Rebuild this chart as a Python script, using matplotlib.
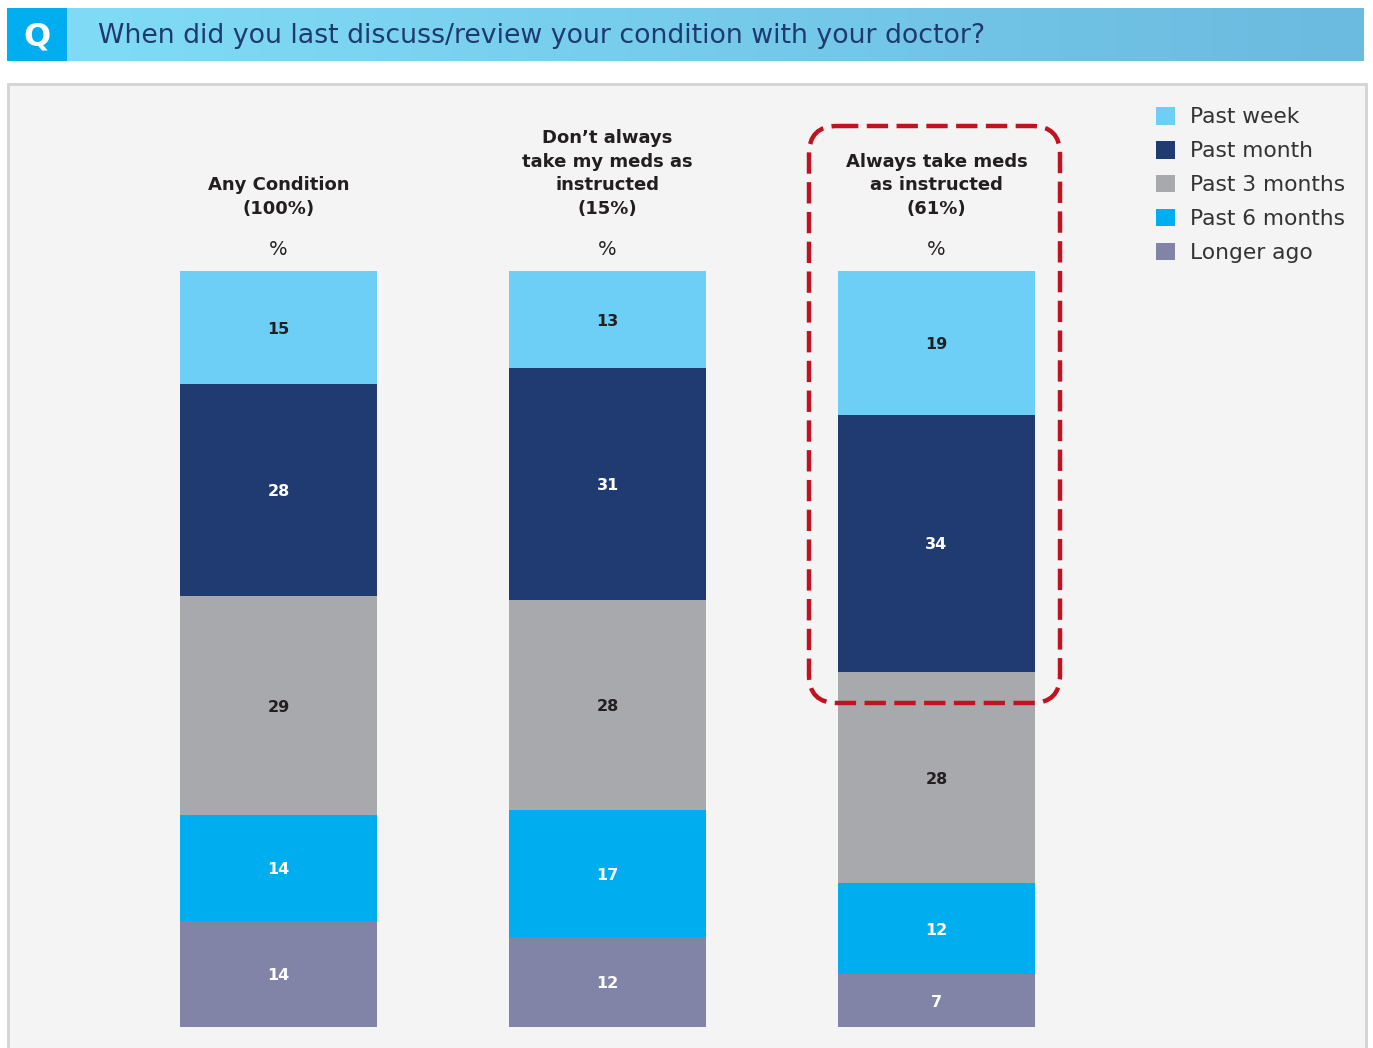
import matplotlib
matplotlib.use('Agg')
import matplotlib.pyplot as plt
import numpy as np
from matplotlib.patches import Rectangle, FancyBboxPatch, Patch
from matplotlib.colors import LinearSegmentedColormap

# ---------------- data ----------------
categories = ["Any Condition\n(100%)",
              "Don\u2019t always\ntake my meds as\ninstructed\n(15%)",
              "Always take meds\nas instructed\n(61%)"]
series = ["Past week", "Past month", "Past 3 months", "Past 6 months", "Longer ago"]
past_week = [15, 13, 19]
past_month = [28, 31, 34]
past_3_months = [29, 28, 28]
past_6_months = [14, 17, 12]
longer_ago = [14, 12, 7]
title = "When did you last discuss/review your condition with your doctor?"

colors = ["#6DCFF6", "#203A72", "#A7A9AC", "#00AEEF", "#8184A7"]
label_colors = ["#231F20", "white", "#231F20", "white", "white"]

values = np.array([past_week, past_month, past_3_months, past_6_months, longer_ago], dtype=float)
totals = values.sum(axis=0)
norm = values / totals * 100.0

plt.rcParams['font.family'] = ['DejaVu Sans']

W, H = 1373, 1048
fig = plt.figure(figsize=(W / 100, H / 100), dpi=100)
fig.patch.set_facecolor('white')

# ---------------- background / decorations ----------------
bg = fig.add_axes([0, 0, 1, 1])
bg.axis('off')
bg.add_patch(Rectangle((8, 84), 1358, 990, facecolor='#F4F4F4', edgecolor='#D3D3D3', lw=2, zorder=0))
grad = np.linspace(0, 1, 256).reshape(1, -1)
cmap = LinearSegmentedColormap.from_list('g', ['#80DCF6', '#6BBADF'])
bg.imshow(grad, extent=(67, 1364, 61, 8), cmap=cmap, aspect='auto', zorder=1)
bg.add_patch(Rectangle((7, 8), 60, 53, facecolor='#00AEEF', edgecolor='none', zorder=2))
bg.text(37, 37, 'Q', color='white', fontsize=23, fontweight='bold', ha='center', va='center', zorder=3)
bg.text(98, 36, title, color='#1F3A6E', fontsize=19.3, ha='left', va='center', zorder=3)
bg.set_xlim(0, W)
bg.set_ylim(H, 0)

# ---------------- bars ----------------
ax = fig.add_axes([114 / W, 1 - 1027 / H, (1101 - 114) / W, (1027 - 271) / H])
ax.set_facecolor('none')
x = np.arange(len(categories))
bottom = np.zeros(len(categories))
for k, name in enumerate(series):
    ax.bar(x, norm[k], width=0.6, bottom=bottom, color=colors[k], label=name, edgecolor='none')
    for i in range(len(categories)):
        ax.text(x[i], bottom[i] + norm[k][i] / 2 + 0.2, f"{int(values[k][i])}", ha='center', va='center',
                color=label_colors[k], fontsize=11.5, fontweight='bold')
    bottom = bottom + norm[k]
ax.set_xlim(-0.5, 2.5)
ax.set_ylim(100, 0)
ax.axis('off')

for i, cat in enumerate(categories):
    ax.text(x[i], -7.5, cat, ha='center', va='baseline', fontsize=13, fontweight='bold',
            color='#231F20', linespacing=1.42, clip_on=False)
    ax.text(x[i], -2.8, '%', ha='center', va='center', fontsize=14, color='#231F20', clip_on=False)

handles = [Patch(facecolor=c, edgecolor='none') for c in colors]
fig.legend(handles, series, loc='upper left', bbox_to_anchor=(1156 / W, 1 - 107 / H),
           frameon=False, fontsize=15.7, handlelength=0.87, handleheight=0.87,
           handletextpad=0.68, labelspacing=0.62, borderpad=0, borderaxespad=0,
           labelcolor='#333333')

# ---------------- highlight box ----------------
ov = fig.add_axes([0, 0, 1, 1])
ov.set_facecolor('none')
ov.axis('off')
ov.set_xlim(0, W)
ov.set_ylim(H, 0)
ov.add_patch(FancyBboxPatch((809, 126), 251, 577, boxstyle='round,pad=0,rounding_size=28',
                            fill=False, edgecolor='#C1121F', lw=3.2, linestyle=(0, (4.8, 1.9))))

fig.savefig('out.png', dpi=100, facecolor='white')
